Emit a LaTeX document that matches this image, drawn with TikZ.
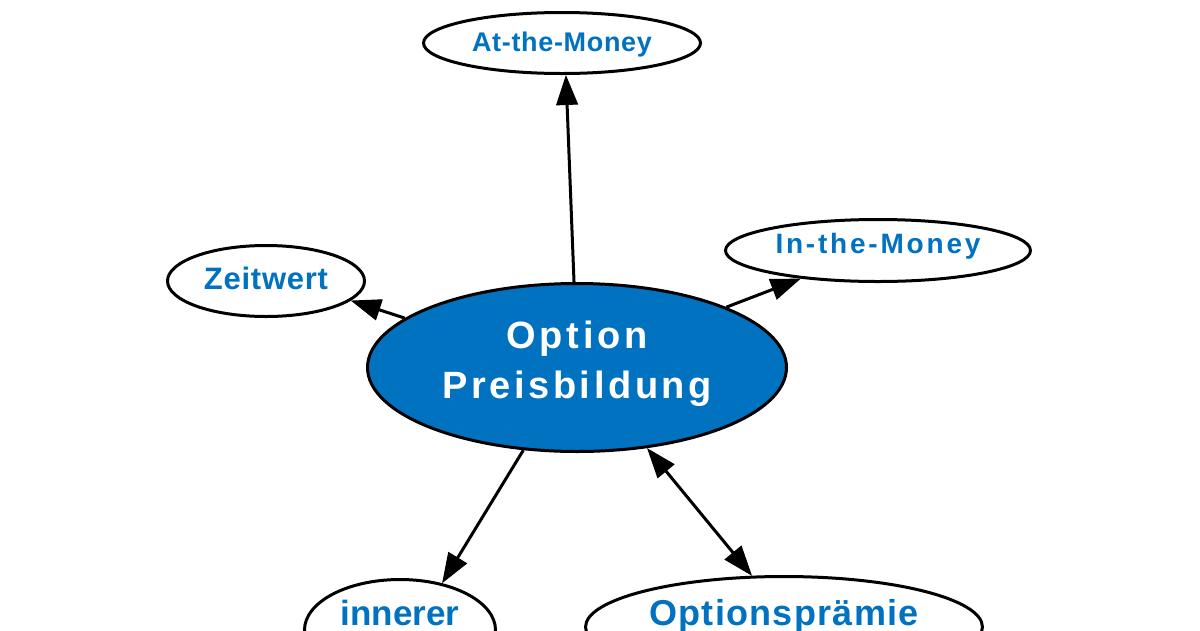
\documentclass[tikz,border=0pt]{standalone}
\usepackage{fontspec}
\setmainfont{Liberation Sans}
\usetikzlibrary{arrows.meta,shapes.geometric}
\definecolor{ublue}{RGB}{0,114,192}
\newcommand\lbl[4]{\raisebox{#1pt}[0pt][0pt]{\fontsize{#2}{#2}\selectfont\bfseries\addfontfeatures{LetterSpace=#3}#4}}
\begin{document}
\begin{tikzpicture}[x=1pt,y=-1pt,
  ell/.style={ellipse, draw=black, line width=3pt, inner sep=0pt, fill=white, text=ublue},
  arr/.style={line width=3pt, -{Triangle[length=30pt,width=22pt,line width=1pt]}},
  darr/.style={line width=3pt, {Triangle[length=30pt,width=22pt,line width=1pt]}-{Triangle[length=30pt,width=22pt,line width=1pt]}}]
\fill[white] (0,0) rectangle (1200,630);
\useasboundingbox (0,0) rectangle (1200,630);
\clip (0,0) rectangle (1200,630);
\node[ell, minimum width=277pt, minimum height=61pt] (atm) at (562,43) {\lbl{-8}{27}{2.5}{At-the-Money}};
\node[ell, minimum width=305pt, minimum height=62pt] (itm) at (878,250.5) {\lbl{-2.5}{28}{10}{In-the-Money}};
\node[ell, minimum width=197pt, minimum height=71pt] (zw) at (266,281) {\lbl{-8}{31}{2.4}{Zeitwert}};
\node[ell, fill=ublue, text=white, minimum width=419pt, minimum height=168pt] (c) at (577,367.5)
  {\raisebox{-30.5pt}[0pt][0pt]{\fontsize{38}{50}\selectfont\bfseries\addfontfeatures{LetterSpace=9.5}\begin{tabular}[b]{@{}c@{}}Option\\Preisbildung\end{tabular}}};
\node[ell, minimum width=191pt, minimum height=101pt] (inn) at (400,630) {\lbl{5}{35}{0}{innerer}};
\node[ell, minimum width=397pt, minimum height=101pt] (op) at (784,627) {\lbl{2}{36}{3.5}{Optionsprämie}};
\draw[arr] (c.92.7) -- (atm.-83);
\draw[arr] (c.164) -- (zw.-13.7);
\draw[arr] (c.22.2) -- (itm.200.7);
\draw[arr] (c.237.4) -- (inn.48.5);
\draw[darr] (c.-49.7) -- (op.122.9);
\end{tikzpicture}
\end{document}
